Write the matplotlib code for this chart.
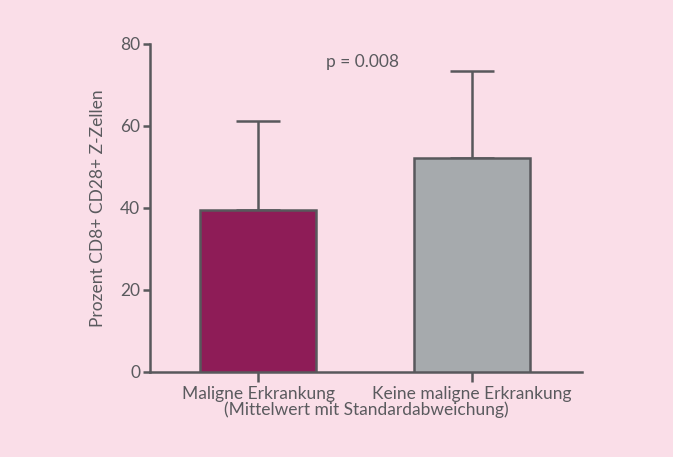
import matplotlib
matplotlib.use("Agg")
import matplotlib.pyplot as plt
import numpy as np

categories = ["Maligne Erkrankung", "Keine maligne Erkrankung"]
means = [39.5, 52.2]
sds = [21.7, 21.2]
bar_colors = ["#8E1C57", "#A6AAAD"]
p_text = "p = 0.008"

bg = "#FADEE8"
line_c = "#58585C"
text_c = "#5A5A5E"

plt.rcParams["font.family"] = ["Lato", "DejaVu Sans"]
fs = 12.5

fig = plt.figure(figsize=(6.73, 4.57), dpi=100, facecolor=bg)
ax = fig.add_axes([0.2229, 0.186, 0.642, 0.718], facecolor=bg)

x = np.arange(len(categories))
ax.bar(x, means, width=0.54, color=bar_colors, edgecolor=line_c, linewidth=1.8, zorder=3)
ax.errorbar(x, means, yerr=[np.zeros(len(sds)), sds], fmt="none", ecolor=line_c,
            elinewidth=1.8, capsize=16, capthick=1.8, zorder=2)

ax.set_xlim(-0.505, 1.514)
ax.set_ylim(0, 80)
ax.set_yticks([0, 20, 40, 60, 80])
ax.set_xticks(x)
ax.set_xticklabels(categories)
for s in ["top", "right"]:
    ax.spines[s].set_visible(False)
for s in ["left", "bottom"]:
    ax.spines[s].set_color(line_c)
    ax.spines[s].set_linewidth(1.8)
ax.tick_params(axis="y", length=5, width=1.8, color=line_c, labelcolor=text_c, labelsize=fs, pad=2)
ax.tick_params(axis="x", length=7, width=1.8, color=line_c, labelcolor=text_c, labelsize=fs, pad=3)
ax.set_ylabel("Prozent CD8+ CD28+ Z-Zellen", color=text_c, fontsize=fs, labelpad=10)
ax.set_xlabel("(Mittelwert mit Standardabweichung)", color=text_c, fontsize=fs, labelpad=0)
ax.text(0.318, 75.6, p_text, color=text_c, fontsize=fs, ha="left", va="center")

fig.savefig("out.png", dpi=100, facecolor=bg)
